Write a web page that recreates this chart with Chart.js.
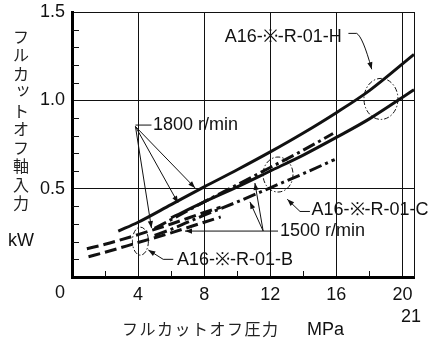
<!DOCTYPE html>
<html><head><meta charset="utf-8">
<script src="https://cdn.jsdelivr.net/npm/chart.js@4.4.0/dist/chart.umd.min.js"></script>
<style>html,body{margin:0;padding:0;background:#fff;}canvas{display:block;}</style>
</head><body>
<canvas id="c" width="436" height="342"></canvas>
<script>
// ---------- data ----------
const xTicks = [0, 4, 8, 12, 16, 20];
const yTicks = [0, 0.5, 1.0, 1.5];
const xMinor = [2, 6, 10, 14, 18];
const yMinor = [0.1, 0.2, 0.3, 0.4, 0.6, 0.7, 0.8, 0.9, 1.1, 1.2, 1.3, 1.4];

const h1800X = [2.8, 4, 6, 8, 10, 12, 14, 16, 18, 20.7];
const h1800Y = [0.26, 0.31, 0.41, 0.51, 0.607, 0.708, 0.815, 0.93, 1.055, 1.26];
const h1500X = [6, 8, 10, 12, 14, 16, 18, 20.7];
const h1500Y = [0.335, 0.425, 0.51, 0.6, 0.69, 0.79, 0.895, 1.06];
const c1800X = [5, 6, 8, 10, 12, 14, 15.8];
const c1800Y = [0.275, 0.325, 0.425, 0.522, 0.62, 0.718, 0.812];
const c1500X = [5, 6, 8, 10, 12, 14, 15.9];
const c1500Y = [0.235, 0.27, 0.35, 0.425, 0.505, 0.585, 0.665];
const b1800X = [0.9, 2, 4, 6, 8, 9];
const b1800Y = [0.16, 0.185, 0.24, 0.3, 0.365, 0.395];
const b1500X = [1, 2, 4, 6, 8, 9];
const b1500Y = [0.115, 0.14, 0.195, 0.25, 0.31, 0.34];

const yTitle = 'フルカットオフ軸入力';
const yUnit = 'kW';
const xTitle = 'フルカットオフ圧力';
const xUnit = 'MPa';
const labelH = 'A16-※-R-01-H';
const labelC = 'A16-※-R-01-C';
const labelB = 'A16-※-R-01-B';
const label1800 = '1800 r/min';
const label1500 = '1500 r/min';

// ---------- annotation geometry (in data units) ----------
const notes = {
  circles: [
    {x: 18.7, y: 1.008, rx: 17, ry: 20.5},
    {x: 12.47, y: 0.58, rx: 15, ry: 17.5},
    {x: 4.14, y: 0.203, rx: 8, ry: 14}
  ],
  h: {text: [12.79, 1.356], lead: [[16.73, 1.379], [17.23, 1.379]], ctrl: [17.6, 1.36], tip: [18.14, 1.176]},
  r1800: {text: [4.9, 0.86], lead: [[3.84, 0.86], [4.81, 0.86]], origin: [3.84, 0.852],
          tips: [[4.81, 0.277], [6.42, 0.419], [7.45, 0.504]]},
  r1500: {text: [12.59, 0.26], lead: [[11.57, 0.26], [12.47, 0.26]], origin: [11.57, 0.26],
          tips: [[6.84, 0.26], [10.77, 0.425], [11.07, 0.532]]},
  c: {text: [14.5, 0.377], lead: [[14.4, 0.371], [13.8, 0.371]], tip: [13.03, 0.44]},
  b: {text: [6.35, 0.096], lead: [[6.13, 0.1], [5.52, 0.1]], tip: [4.62, 0.153]}
};

const pts = (xs, ys) => xs.map((x, i) => ({x: x, y: ys[i]}));
const INK = '#111';
const LATIN = '"Liberation Sans", Arial, Helvetica, sans-serif';
const CJK = '"Noto Sans CJK JP", sans-serif';
const solid = [];
const dashed = [12, 5];
const dashDot = [13, 4, 3, 4];

function ds(xs, ys, dash) {
  return {data: pts(xs, ys), borderColor: INK, borderWidth: 3, borderDash: dash,
          borderCapStyle: 'butt', pointRadius: 0, fill: false,
          cubicInterpolationMode: 'monotone'};
}

function arrow(ctx, x1, y1, x2, y2) {
  ctx.beginPath(); ctx.moveTo(x1, y1); ctx.lineTo(x2, y2); ctx.stroke();
  head(ctx, x1, y1, x2, y2);
}
function head(ctx, x1, y1, x2, y2) {
  const a = Math.atan2(y2 - y1, x2 - x1), L = 7, W = 2.6;
  ctx.beginPath();
  ctx.moveTo(x2, y2);
  ctx.lineTo(x2 - L * Math.cos(a) + W * Math.sin(a), y2 - L * Math.sin(a) - W * Math.cos(a));
  ctx.lineTo(x2 - L * Math.cos(a) - W * Math.sin(a), y2 - L * Math.sin(a) + W * Math.cos(a));
  ctx.closePath(); ctx.fill();
}

const notesPlugin = {
  id: 'notes',
  afterDraw(chart) {
    const ctx = chart.ctx, xs = chart.scales.x, ys = chart.scales.y, a = chart.chartArea;
    const P = p => [xs.getPixelForValue(p[0]), ys.getPixelForValue(p[1])];
    ctx.save();
    ctx.strokeStyle = INK; ctx.fillStyle = INK; ctx.lineWidth = 1;
    // right border
    ctx.beginPath(); ctx.moveTo(Math.round(a.right) + 0.5, a.top); ctx.lineTo(Math.round(a.right) + 0.5, a.bottom); ctx.stroke();
    // minor ticks
    yMinor.forEach(v => { const y = Math.round(ys.getPixelForValue(v)) + 0.5;
      ctx.beginPath(); ctx.moveTo(a.left, y); ctx.lineTo(a.left + 7, y); ctx.stroke(); });
    xMinor.forEach(v => { const x = Math.round(xs.getPixelForValue(v)) + 0.5;
      ctx.beginPath(); ctx.moveTo(x, a.bottom); ctx.lineTo(x, a.bottom - 6); ctx.stroke(); });
    // ellipses
    ctx.setLineDash([5, 2, 1.5, 2]);
    notes.circles.forEach(c => { const [cx, cy] = P([c.x, c.y]);
      ctx.beginPath(); ctx.ellipse(cx, cy, c.rx, c.ry, 0, 0, Math.PI * 2); ctx.stroke(); });
    ctx.setLineDash([]);
    // H leader
    let p0 = P(notes.h.lead[0]), p1 = P(notes.h.lead[1]), pc = P(notes.h.ctrl), pt = P(notes.h.tip);
    ctx.beginPath(); ctx.moveTo(p0[0], p0[1]); ctx.lineTo(p1[0], p1[1]);
    ctx.quadraticCurveTo(pc[0], pc[1], pt[0], pt[1]); ctx.stroke();
    head(ctx, pc[0], pc[1], pt[0], pt[1]);
    // speed leaders
    [notes.r1800, notes.r1500].forEach(n => {
      const l0 = P(n.lead[0]), l1 = P(n.lead[1]), o = P(n.origin);
      ctx.beginPath(); ctx.moveTo(l0[0], l0[1]); ctx.lineTo(l1[0], l1[1]); ctx.stroke();
      n.tips.forEach(t => { const q = P(t); arrow(ctx, o[0], o[1], q[0], q[1]); });
    });
    // C and B leaders
    [notes.c, notes.b].forEach(n => {
      const l0 = P(n.lead[0]), l1 = P(n.lead[1]), q = P(n.tip);
      ctx.beginPath(); ctx.moveTo(l0[0], l0[1]); ctx.lineTo(l1[0], l1[1]); ctx.lineTo(q[0], q[1]); ctx.stroke();
      head(ctx, l1[0], l1[1], q[0], q[1]);
    });
    // annotation texts
    ctx.font = '18px ' + LATIN; ctx.textBaseline = 'middle';
    ctx.textAlign = 'center';
    let tp = P(notes.h.text); ctx.fillText(labelH, tp[0], tp[1]);
    ctx.textAlign = 'left';
    tp = P(notes.r1800.text); ctx.fillText(label1800, tp[0], tp[1]);
    tp = P(notes.r1500.text); ctx.fillText(label1500, tp[0], tp[1]);
    tp = P(notes.c.text); ctx.fillText(labelC, tp[0], tp[1]);
    tp = P(notes.b.text); ctx.fillText(labelB, tp[0], tp[1]);
    // origin "0" and "21"
    ctx.textAlign = 'right';
    ctx.fillText('0', a.left - 7, a.bottom + 16);
    ctx.textAlign = 'center';
    ctx.fillText('21', a.right - 3, a.bottom + 40);
    // axis titles
    ctx.font = '16px ' + CJK; ctx.fillStyle = '#222';
    yTitle.split('').forEach((ch, i) => {
      const small = ch === 'ッ';
      ctx.fillText(ch, 21 + (small ? 2 : 0), 36.5 + i * 18.5 - (small ? 3 : 0));
    });
    xTitle.split('').forEach((ch, i) => {
      ctx.fillText(ch, 130 + i * 17.5, 329);
    });
    ctx.font = '18px ' + LATIN; ctx.fillStyle = INK;
    ctx.fillText(yUnit, 21, 241.5);
    ctx.textAlign = 'left';
    ctx.fillText(xUnit, 307, 330);
    ctx.restore();
  }
};

const gridColor = c => (c.tick && c.tick.value !== 0) ? INK : 'rgba(0,0,0,0)';

new Chart(document.getElementById('c'), {
  type: 'line',
  data: {datasets: [
    ds(h1800X, h1800Y, solid), ds(h1500X, h1500Y, solid),
    ds(c1800X, c1800Y, dashDot), ds(c1500X, c1500Y, dashDot),
    ds(b1800X, b1800Y, dashed), ds(b1500X, b1500Y, dashed)
  ]},
  options: {
    responsive: false, animation: false, devicePixelRatio: 1,
    layout: {padding: {top: 12, right: 22, left: 0, bottom: 0}},
    plugins: {legend: {display: false}, tooltip: {enabled: false}},
    scales: {
      x: {type: 'linear', min: 0, max: 20.7,
        afterFit: s => { s.height = 65; s.paddingLeft = 0; s.paddingRight = 0; },
        afterBuildTicks: s => { s.ticks = xTicks.map(v => ({value: v})); },
        ticks: {callback: v => v === 0 ? '' : String(v), color: INK, padding: 7,
                font: {family: LATIN, size: 18}, maxRotation: 0, autoSkip: false},
        grid: {color: gridColor, lineWidth: 1, drawTicks: false},
        border: {display: true, color: '#000', width: 3}},
      y: {type: 'linear', min: 0, max: 1.5,
        afterFit: s => { s.width = 72; s.paddingTop = 0; s.paddingBottom = 0; },
        afterBuildTicks: s => { s.ticks = yTicks.map(v => ({value: v})); },
        ticks: {callback: v => v === 0 ? '' : v.toFixed(1), color: INK, padding: 7,
                font: {family: LATIN, size: 18}},
        grid: {color: gridColor, lineWidth: 1, drawTicks: false},
        border: {display: true, color: '#000', width: 3}}
    }
  },
  plugins: [notesPlugin]
});
</script>
</body></html>
